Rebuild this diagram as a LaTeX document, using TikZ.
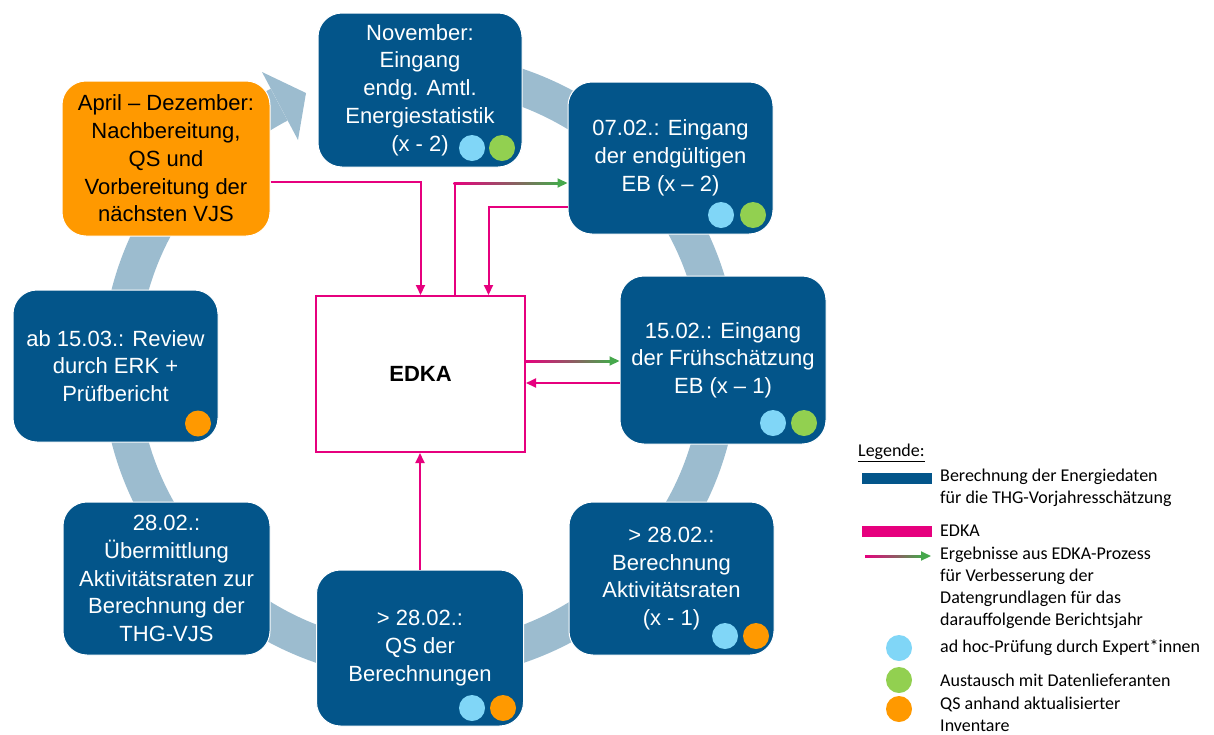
\documentclass[tikz,border=0pt]{standalone}
\usepackage{fontspec}
\setmainfont{Liberation Sans}
\newfontfamily\legfont{Carlito}
\usetikzlibrary{arrows.meta,calc}
\definecolor{dblue}{HTML}{03558A}
\definecolor{ringc}{HTML}{9CBCCF}
\definecolor{orng}{HTML}{FF9900}
\definecolor{mag}{HTML}{E6007E}
\definecolor{grn}{HTML}{46A84C}
\definecolor{dotb}{HTML}{80D6F7}
\definecolor{dotg}{HTML}{92D050}
\newcommand\boxfont{\fontsize{22}{27.7}\selectfont}
\newcommand\legsize{\fontsize{18}{22}\selectfont}
\begin{document}
\begin{tikzpicture}[x=1pt,y=-1pt,
  box/.style={rounded corners=24pt, fill=dblue, draw=white, line width=1pt, text=white,
    align=center, inner sep=0pt, font=\boxfont},
  obox/.style={box, fill=orng, text=black},
  edkabox/.style={draw=mag, line width=2pt, fill=white, inner sep=0pt, font=\boxfont\bfseries},
  dot/.style={circle, minimum size=26pt, inner sep=0pt},
  conn/.style={mag, line width=2pt, -{Triangle[length=10pt,width=9pt]}},
  garrow/.style={grn, line width=2pt, -{Triangle[length=10pt,width=9pt]}},
  legtext/.style={anchor=west, align=left, inner sep=0pt, font=\legfont\legsize},
  legbar/.style={minimum width=70pt, minimum height=11pt, inner sep=0pt}
]
\useasboundingbox (0,0) rectangle (1214,734);

% ring with arrowhead
\draw[ringc, line width=36pt] ([shift={(105:300pt and 296pt)}]420,366)
  arc[start angle=105, end angle=-242, x radius=300pt, y radius=296pt];
\fill[ringc] (262,72) -- (306,93) -- (298,140) -- cycle;

% boxes
\node[box, minimum width=204pt, minimum height=154pt] (nov) at (420,90)
  {November:\\Eingang\\endg. Amtl.\\Energiestatistik\\(x - 2)};
\node[box, minimum width=205pt, minimum height=152pt] (eb2) at (670.5,158)
  {07.02.: Eingang\\der endgültigen\\EB (x – 2)};
\node[box, minimum width=206pt, minimum height=168pt] (eb1) at (723,360)
  {15.02.: Eingang\\der Frühschätzung\\EB (x – 1)};
\node[box, minimum width=205pt, minimum height=153pt] (akt) at (671.5,578.5)
  {> 28.02.:\\Berechnung\\Aktivitätsraten\\(x - 1)};
\node[box, minimum width=207pt, minimum height=156pt] (qs) at (420,648)
  {> 28.02.:\\QS der\\Berechnungen};
\node[box, minimum width=207pt, minimum height=153pt] (ueb) at (166.5,578.5)
  {28.02.:\\Übermittlung\\Aktivitätsraten zur\\Berechnung der\\THG-VJS};
\node[box, minimum width=205pt, minimum height=152pt] (rev) at (115.5,366)
  {ab 15.03.: Review\\durch ERK +\\Prüfbericht};
\node[obox, minimum width=208pt, minimum height=155pt] (apr) at (166,158.5)
  {April – Dezember:\\Nachbereitung,\\QS und\\Vorbereitung der\\nächsten VJS};
\node[edkabox, minimum width=209pt, minimum height=156pt] (edka) at (420.5,374) {EDKA};

% connectors
\coordinate (c1s) at ($(apr.east)+(0,23.5)$);
\draw[conn] (c1s) -| (edka.north);

\coordinate (c2s) at ($(edka.north)+(34,0)$);
\coordinate (c2t) at ($(eb2.west)+(0,25)$);
\coordinate (c2c) at (c2s |- c2t);
\draw[mag, line width=2pt] (c2s) -- ($(c2c)+(0,-1)$);
\shade[left color=mag, right color=grn] ($(c2c)+(-1,-1)$) rectangle ($(c2t)+(-9,1)$);
\draw[garrow] ($(c2t)+(-10,0)$) -- (c2t);

\coordinate (c3s) at ($(eb2.west)+(0,49)$);
\draw[conn] (c3s) -| ($(edka.north)+(68,0)$);

\coordinate (c4s) at ($(edka.east)+(0,-13)$);
\coordinate (c4t) at (eb1.west |- c4s);
\shade[left color=mag, right color=grn] ($(c4s)+(0,-1)$) rectangle ($(c4t)+(-9,1)$);
\draw[garrow] ($(c4t)+(-10,0)$) -- (c4t);

\coordinate (c5s) at ($(eb1.west)+(0,23)$);
\coordinate (c5t) at (edka.east |- c5s);
\draw[conn] (c5s) -- (c5t);

\coordinate (c6t) at (qs.north |- edka.south);
\draw[conn] (qs.north) -- (c6t);

% dots
\node[dot, fill=dotb] (n1) at (472,148) {};
\node[dot, fill=dotg] (n2) at (502,148) {};
\node[dot, fill=dotb] (e1) at (721,215) {};
\node[dot, fill=dotg] (e2) at (753,215) {};
\node[dot, fill=dotb] (f1) at (773,423) {};
\node[dot, fill=dotg] (f2) at (804,423) {};
\node[dot, fill=dotb] (a1) at (725,636) {};
\node[dot, fill=orng] (a2) at (756,636) {};
\node[dot, fill=dotb] (q1) at (472,708) {};
\node[dot, fill=orng] (q2) at (503,708) {};
\node[dot, fill=orng] (r1) at (198,423.5) {};

% legend
\node[legtext] (lg) at (858,453) {\underline{Legende:}};
\node[legbar, fill=dblue] (lb1) at (897,478.5) {};
\node[legtext] (lt1) at (940,488) {Berechnung der Energiedaten\\für die THG-Vorjahresschätzung};
\node[legbar, fill=mag] (lb2) at (897,531.5) {};
\node[legtext] (lt2) at (940,531) {EDKA};
\coordinate (la1) at (865,556);
\coordinate (la2) at (931,556);
\shade[left color=mag, right color=grn] ($(la1)+(0,-1)$) rectangle ($(la2)+(-9,1)$);
\draw[garrow] ($(la2)+(-10,0)$) -- (la2);
\node[legtext] (lt3) at (940,588) {Ergebnisse aus EDKA-Prozess\\für Verbesserung der\\Datengrundlagen für das\\darauffolgende Berichtsjahr};
\node[dot, fill=dotb] (ld1) at (899,648) {};
\node[legtext] (lt4) at (940,648) {ad hoc-Prüfung durch Expert*innen};
\node[dot, fill=dotg] (ld2) at (899,680) {};
\node[legtext] (lt5) at (940,680) {Austausch mit Datenlieferanten};
\node[dot, fill=orng] (ld3) at (899,709) {};
\node[legtext] (lt6) at (940,714) {QS anhand aktualisierter\\Inventare};
\end{tikzpicture}
\end{document}
